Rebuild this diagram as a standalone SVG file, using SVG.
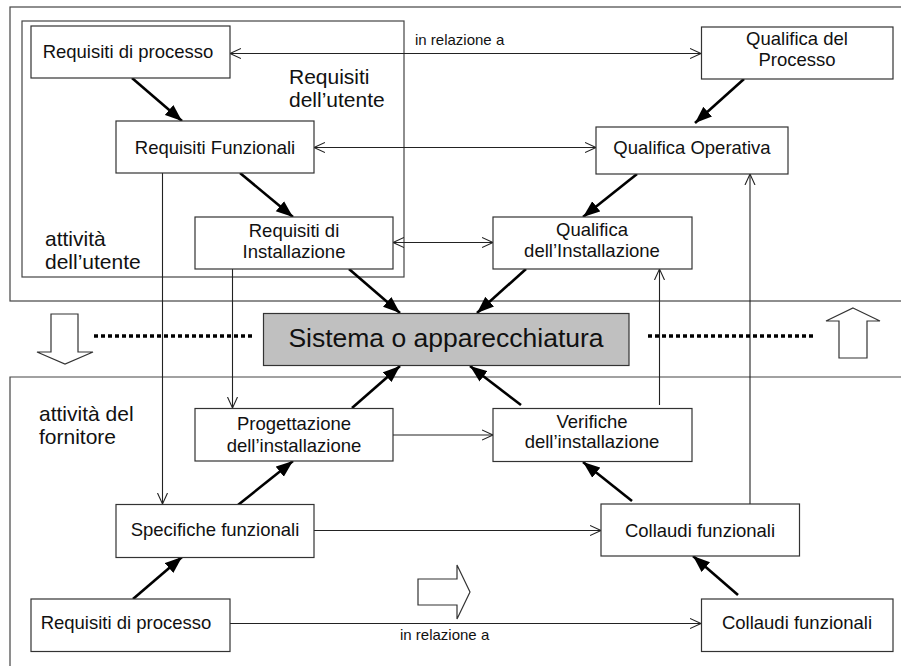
<svg xmlns="http://www.w3.org/2000/svg" width="901" height="666" viewBox="0 0 901 666">
<style>
text{font-family:"Liberation Sans",Arial,sans-serif;fill:#111}
.n{font-size:18.5px;text-anchor:middle}
.lbl{font-size:21px}
.rel{font-size:15px}
.box{fill:#fff;stroke:#333;stroke-width:1.2}
.frame{fill:none;stroke:#444;stroke-width:1.2}
.thin{stroke:#222;stroke-width:1.1;fill:none}
.thick{stroke:#000;stroke-width:2.6;fill:none}
.dot{stroke:#000;stroke-width:3.5;stroke-dasharray:4 3;fill:none}
.blk{fill:#fff;stroke:#333;stroke-width:1.2}
</style>
<defs>
<marker id="open" markerUnits="userSpaceOnUse" markerWidth="14" markerHeight="14" refX="11" refY="6" orient="auto-start-reverse" viewBox="0 0 14 12">
<path d="M0,1 L11,6 L0,11" fill="none" stroke="#222" stroke-width="1.1"/>
</marker>
<marker id="solid" markerUnits="userSpaceOnUse" markerWidth="18" markerHeight="14" refX="17" refY="7" orient="auto" viewBox="0 0 18 14">
<path d="M0,0.5 L17,7 L0,13.5 z" fill="#000"/>
</marker>
</defs>

<g id="frames">
<rect class="frame" x="10" y="7" width="900" height="294"/>
<rect class="frame" x="22" y="21" width="382" height="256"/>
<path class="frame" d="M10,670 V377 H905"/>
</g>

<g id="labels">
<text class="lbl" x="289" y="84">Requisiti</text>
<text class="lbl" x="289" y="107">dell’utente</text>
<text class="lbl" x="45" y="246">attività</text>
<text class="lbl" x="45" y="269">dell’utente</text>
<text class="lbl" x="39" y="421">attività del</text>
<text class="lbl" x="39" y="444">fornitore</text>
<text class="rel" x="415" y="45">in relazione a</text>
<text class="rel" x="400" y="640">in relazione a</text>
</g>

<g id="connectors">
<line class="thin" x1="230" y1="53.5" x2="701" y2="53.5" marker-start="url(#open)" marker-end="url(#open)"/>
<line class="thin" x1="314" y1="147.5" x2="596" y2="147.5" marker-start="url(#open)" marker-end="url(#open)"/>
<line class="thin" x1="393" y1="242.5" x2="493" y2="242.5" marker-start="url(#open)" marker-end="url(#open)"/>
<line class="thin" x1="162.5" y1="173" x2="162.5" y2="504" marker-end="url(#open)"/>
<line class="thin" x1="232.5" y1="269" x2="232.5" y2="408" marker-end="url(#open)"/>
<line class="thin" x1="393" y1="435" x2="493" y2="435" marker-end="url(#open)"/>
<line class="thin" x1="659.5" y1="405" x2="659.5" y2="269" marker-end="url(#open)"/>
<line class="thin" x1="750" y1="504" x2="750" y2="174" marker-end="url(#open)"/>
<line class="thin" x1="314" y1="530.5" x2="601" y2="530.5" marker-end="url(#open)"/>
<line class="thin" x1="230" y1="623.5" x2="701" y2="623.5" marker-end="url(#open)"/>

<line class="thick" x1="132" y1="78" x2="182" y2="121" marker-end="url(#solid)"/>
<line class="thick" x1="240" y1="173" x2="293" y2="217" marker-end="url(#solid)"/>
<line class="thick" x1="349" y1="269" x2="400" y2="313" marker-end="url(#solid)"/>
<line class="thick" x1="744" y1="79" x2="695" y2="123" marker-end="url(#solid)"/>
<line class="thick" x1="637" y1="174" x2="583" y2="217" marker-end="url(#solid)"/>
<line class="thick" x1="526" y1="269" x2="477" y2="313" marker-end="url(#solid)"/>
<line class="thick" x1="352" y1="408" x2="400" y2="366" marker-end="url(#solid)"/>
<line class="thick" x1="521" y1="405" x2="470" y2="366" marker-end="url(#solid)"/>
<line class="thick" x1="238" y1="505" x2="293" y2="461" marker-end="url(#solid)"/>
<line class="thick" x1="632" y1="501" x2="583" y2="462" marker-end="url(#solid)"/>
<line class="thick" x1="133" y1="599" x2="182" y2="557" marker-end="url(#solid)"/>
<line class="thick" x1="738" y1="595" x2="693" y2="556" marker-end="url(#solid)"/>

<line class="dot" x1="94" y1="336" x2="252" y2="336"/>
<line class="dot" x1="648" y1="336" x2="814" y2="336"/>
<polygon class="blk" points="51,314 78,314 78,352 93,352 65,364 37,352 51,352"/>
<polygon class="blk" points="853,308 880,321 867,321 867,358 839,358 839,321 826,321"/>
<polygon class="blk" points="418,579 457,579 457,565 470,592 457,619 457,605 418,605"/>
</g>

<g id="req-processo-top">
<rect class="box" x="31" y="26" width="199" height="52"/>
<text class="n" x="128" y="58">Requisiti di processo</text>
</g>
<g id="qualifica-processo">
<rect class="box" x="701.5" y="27" width="191.5" height="52"/>
<text class="n" x="797" y="45">Qualifica del</text>
<text class="n" x="797" y="66">Processo</text>
</g>
<g id="req-funzionali">
<rect class="box" x="116" y="121" width="198" height="52"/>
<text class="n" x="215" y="154">Requisiti Funzionali</text>
</g>
<g id="qualifica-operativa">
<rect class="box" x="596" y="127" width="192" height="47"/>
<text class="n" x="692" y="154">Qualifica Operativa</text>
</g>
<g id="req-installazione">
<rect class="box" x="195" y="217" width="198" height="52"/>
<text class="n" x="294" y="237">Requisiti di</text>
<text class="n" x="294" y="258">Installazione</text>
</g>
<g id="qualifica-installazione">
<rect class="box" x="493" y="217" width="199" height="52"/>
<text class="n" x="592" y="236">Qualifica</text>
<text class="n" x="592" y="257">dell’Installazione</text>
</g>
<g id="sistema">
<rect x="263.5" y="313.5" width="365.5" height="52" fill="#c0c0c0" stroke="#333" stroke-width="1.2"/>
<text x="446" y="347" style="font-size:26.5px;text-anchor:middle">Sistema o apparecchiatura</text>
</g>
<g id="progettazione">
<rect class="box" x="195" y="408.5" width="198" height="52.5"/>
<text class="n" x="294" y="430">Progettazione</text>
<text class="n" x="294" y="451.5">dell’installazione</text>
</g>
<g id="verifiche">
<rect class="box" x="493" y="408.5" width="199" height="53"/>
<text class="n" x="592" y="427.5">Verifiche</text>
<text class="n" x="592" y="448">dell’installazione</text>
</g>
<g id="specifiche">
<rect class="box" x="116" y="504.5" width="198" height="53"/>
<text class="n" x="215" y="536">Specifiche funzionali</text>
</g>
<g id="collaudi-mid">
<rect class="box" x="601" y="504" width="198.5" height="52"/>
<text class="n" x="700" y="537">Collaudi funzionali</text>
</g>
<g id="req-processo-bottom">
<rect class="box" x="31" y="599" width="199" height="52.5"/>
<text class="n" x="126" y="628.5">Requisiti di processo</text>
</g>
<g id="collaudi-bottom">
<rect class="box" x="701.5" y="599" width="191.5" height="52.5"/>
<text class="n" x="797" y="629">Collaudi funzionali</text>
</g>
</svg>
